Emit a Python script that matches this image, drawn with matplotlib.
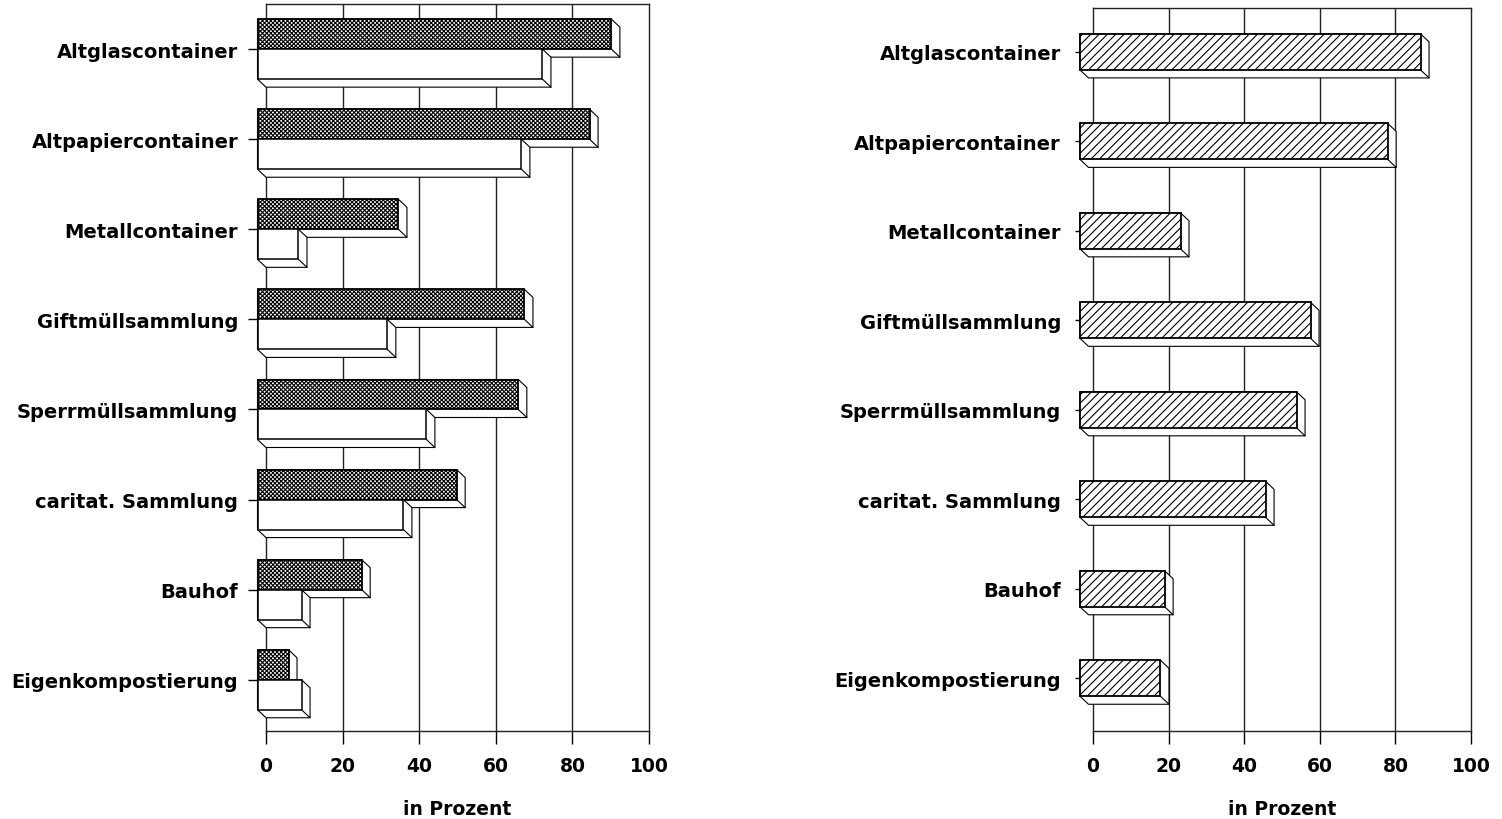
import numpy as np
import matplotlib
matplotlib.use("Agg")
import matplotlib.pyplot as plt
from matplotlib.patches import Polygon

plt.rcParams['font.family'] = ['DejaVu Sans']
plt.rcParams['font.weight'] = 'bold'
plt.rcParams['hatch.linewidth'] = 0.8

categories = ["Altglascontainer", "Altpapiercontainer", "Metallcontainer",
              "Giftmüllsammlung", "Sperrmüllsammlung", "caritat. Sammlung",
              "Bauhof", "Eigenkompostierung"]

# left chart, two series (dark crosshatch / white)
left_dark = [92.4, 86.7, 36.8, 69.7, 68.1, 52.0, 27.2, 8.1]
left_white = [74.4, 68.9, 10.7, 33.9, 44.1, 38.1, 11.5, 11.5]

# right chart, one series (diagonal hatch)
right_vals = [88.9, 80.2, 25.4, 59.8, 56.1, 47.9, 21.2, 20.1]

xticks = [0, 20, 40, 60, 80, 100]

W, H = 1502, 820
fig = plt.figure(figsize=(W / 100, H / 100), dpi=100)


def add_px_axes(x0, x1, ytop, ybot):
    return fig.add_axes([x0 / W, 1 - ybot / H, (x1 - x0) / W, (ybot - ytop) / H])


def make_panel(x0, x1, ytop, ybot, ylim, lab_pad, depth=(8.5, 8)):
    back = add_px_axes(x0, x1, ytop, ybot)
    back.set_xlim(0, 100)
    back.set_ylim(*ylim)
    for s in back.spines.values():
        s.set_linewidth(1.0)
        s.set_color("#222222")
    for v in xticks[1:-1]:
        back.axvline(v, color="#222222", lw=1.0, zorder=0)
    back.set_xticks(xticks)
    back.set_xticklabels([str(t) for t in xticks], fontsize=13.5, fontweight="bold")
    back.tick_params(axis="x", direction="out", length=9, width=1.0, pad=9)
    back.set_yticks([])
    back.set_xlabel("in Prozent", fontsize=13.5, fontweight="bold", labelpad=17)

    front = add_px_axes(x0 - depth[0], x1 - depth[0], ytop - depth[1], ybot - depth[1])
    front.set_xlim(0, 100)
    front.set_ylim(*ylim)
    front.patch.set_alpha(0)
    for s in front.spines.values():
        s.set_visible(False)
    front.set_xticks([])
    front.set_yticks(np.arange(len(categories)))
    front.set_yticklabels(categories, fontsize=14, fontweight="bold")
    front.tick_params(axis="y", direction="out", length=7, width=1.0, pad=lab_pad)

    dxd = depth[0] * 100 / (x1 - x0)
    dyd = depth[1] * abs(ylim[0] - ylim[1]) / (ybot - ytop)
    return front, dxd, dyd


def bar3d(ax, y, value, height, left, dxd, dyd, z, **kw):
    top, bot = y - height / 2, y + height / 2
    pts = [(left, top), (value, top), (value + dxd, top + dyd), (value + dxd, bot + dyd),
           (left + dxd, bot + dyd), (left, bot)]
    ax.add_patch(Polygon(pts, closed=True, facecolor="white", edgecolor="black",
                         lw=0.8, zorder=z, clip_on=False))
    ax.plot([value, value + dxd], [bot, bot + dyd], color="black", lw=0.8, zorder=z, clip_on=False)
    ax.barh([y], [value - left], left=left, height=height, zorder=z + 0.5,
            clip_on=False, **kw)


# left panel
axL, dxL, dyL = make_panel(266, 649, 5, 732, (7.48, -0.59), 7)
bh = 30 / 90.1
for i in range(len(categories)):
    bar3d(axL, i - bh / 2, left_dark[i], bh, 0, dxL, dyL, 2,
          facecolor="white", edgecolor="black", hatch="x" * 8, lw=1.3)
    bar3d(axL, i + bh / 2, left_white[i], bh, 0, dxL, dyL, 4,
          facecolor="white", edgecolor="black", lw=1.1)

# right panel
axR, dxR, dyR = make_panel(1093, 1471, 9, 732, (7.50, -0.58), 10)
bh = 36 / 89.5
start = -1.2
for i in range(len(categories)):
    bar3d(axR, i, right_vals[i], bh, start, dxR, dyR, 2,
          facecolor="white", edgecolor="black", hatch="////", lw=1.3)

fig.savefig("out.png", dpi=100)
